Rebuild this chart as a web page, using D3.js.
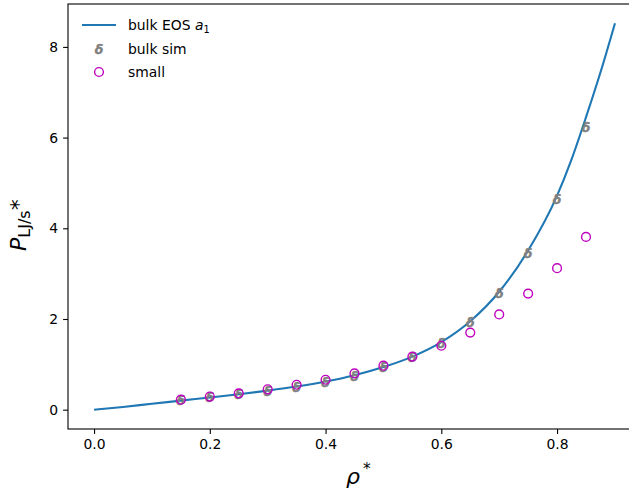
<!DOCTYPE html>
<html>
<head>
<meta charset="utf-8">
<script src="https://cdn.jsdelivr.net/npm/d3@7"></script>
<style>
  html, body { margin: 0; padding: 0; background: #fff; }
  svg { display: block; font-family: "DejaVu Sans", sans-serif; }
</style>
</head>
<body>
<svg id="chart" width="629" height="492"></svg>
<script>
// Equation-of-state curve (reduced density vs pressure)
const eosRho = [0, 0.05, 0.1, 0.15, 0.2, 0.25, 0.3, 0.35, 0.4, 0.45, 0.5, 0.55, 0.6, 0.65, 0.7, 0.75, 0.8, 0.825, 0.85, 0.875, 0.9];
const eosP   = [0, 0.06, 0.13, 0.20, 0.27, 0.34, 0.42, 0.51, 0.62, 0.76, 0.94, 1.17, 1.49, 1.95, 2.60, 3.51, 4.72, 5.52, 6.45, 7.44, 8.52];

// Simulation densities
const simRho   = [0.15, 0.2, 0.25, 0.3, 0.35, 0.4, 0.45, 0.5, 0.55, 0.6, 0.65, 0.7, 0.75, 0.8, 0.85];
const bulkSimP = [0.20, 0.26, 0.33, 0.41, 0.50, 0.61, 0.74, 0.92, 1.14, 1.45, 1.93, 2.57, 3.44, 4.64, 6.22];
const smallP   = [0.22, 0.29, 0.36, 0.45, 0.55, 0.66, 0.80, 0.97, 1.17, 1.41, 1.70, 2.10, 2.56, 3.12, 3.81];

const xTicks = [0.0, 0.2, 0.4, 0.6, 0.8];
const yTicks = [0, 2, 4, 6, 8];

const svg = d3.select("#chart");
const mLeft = 68, mTop = 4, mBottom = 429, mRight = 641;

const x = d3.scaleLinear().domain([-0.045, 0.945]).range([mLeft, mRight]);
const y = d3.scaleLinear().domain([-0.426, 8.946]).range([mBottom, mTop]);

const plot = svg.append("g");

// axes
const xAxis = d3.axisBottom(x).tickValues(xTicks).tickFormat(d3.format(".1f"))
  .tickSizeInner(4.9).tickSizeOuter(0).tickPadding(4.9);
const yAxis = d3.axisLeft(y).tickValues(yTicks).tickFormat(d3.format("d"))
  .tickSizeInner(4.9).tickSizeOuter(0).tickPadding(4.9);

const gx = svg.append("g").attr("transform", `translate(0,${mBottom})`).call(xAxis);
const gy = svg.append("g").attr("transform", `translate(${mLeft},0)`).call(yAxis);
[gx, gy].forEach(g => {
  g.select(".domain").remove();
  g.selectAll(".tick line").attr("stroke", "#000").attr("stroke-width", 1.1);
  g.selectAll(".tick text").attr("fill", "#000").style("font-size", "13.9px")
    .style("font-family", "DejaVu Sans");
});

// spines
svg.append("rect").attr("x", mLeft).attr("y", mTop)
  .attr("width", mRight - mLeft).attr("height", mBottom - mTop)
  .attr("fill", "none").attr("stroke", "#000").attr("stroke-width", 1.1);

// EOS curve
const line = d3.line().x((d, i) => x(eosRho[i])).y(d => y(d)).curve(d3.curveMonotoneX);
plot.append("path").datum(eosP).attr("d", line)
  .attr("fill", "none").attr("stroke", "#1f77b4").attr("stroke-width", 2.1);

// bulk simulation markers
plot.selectAll("text.bulk").data(bulkSimP).enter().append("text")
  .attr("class", "bulk")
  .attr("x", (d, i) => x(simRho[i]))
  .attr("y", d => y(d) + 4.5)
  .attr("text-anchor", "middle")
  .style("font-size", "12.5px").style("font-style", "italic").style("font-weight", "bold")
  .attr("fill", "#808080").attr("stroke", "#808080").attr("stroke-width", 0.4)
  .text("δ");

// small-system markers
plot.selectAll("circle.small").data(smallP).enter().append("circle")
  .attr("class", "small")
  .attr("cx", (d, i) => x(simRho[i]))
  .attr("cy", d => y(d))
  .attr("r", 4.4)
  .attr("fill", "none").attr("stroke", "#bf00bf").attr("stroke-width", 1.4);

// legend
const lg = svg.append("g").style("font-size", "13.9px");
lg.append("line").attr("x1", 82).attr("x2", 116).attr("y1", 25).attr("y2", 25)
  .attr("stroke", "#1f77b4").attr("stroke-width", 2.1);
const t1 = lg.append("text").attr("x", 128).attr("y", 30);
t1.append("tspan").text("bulk EOS ");
t1.append("tspan").style("font-style", "italic").text("a");
t1.append("tspan").attr("dy", 3).style("font-size", "9.7px").text("1");
lg.append("text").attr("x", 99).attr("y", 53.5).attr("text-anchor", "middle")
  .style("font-size", "12.5px").style("font-style", "italic").style("font-weight", "bold")
  .attr("fill", "#808080").attr("stroke", "#808080").attr("stroke-width", 0.4).text("δ");
lg.append("text").attr("x", 128).attr("y", 54).text("bulk sim");
lg.append("circle").attr("cx", 99).attr("cy", 72).attr("r", 4.4)
  .attr("fill", "none").attr("stroke", "#bf00bf").attr("stroke-width", 1.4);
lg.append("text").attr("x", 128).attr("y", 77).text("small");

// axis labels
const xl = svg.append("text").attr("x", 346).attr("y", 484).style("font-size", "22px");
xl.append("tspan").style("font-style", "italic").text("ρ");
xl.append("tspan").attr("dx", 3).attr("dy", -10).style("font-size", "15.4px").text("*");

const yl = svg.append("text").attr("transform", "translate(26,251) rotate(-90)").style("font-size", "22px");
yl.append("tspan").style("font-style", "italic").text("P");
yl.append("tspan").attr("dy", 4).style("font-size", "16px").text("LJ/s");
yl.append("tspan").attr("dy", -4).text("*");
</script>
</body>
</html>
